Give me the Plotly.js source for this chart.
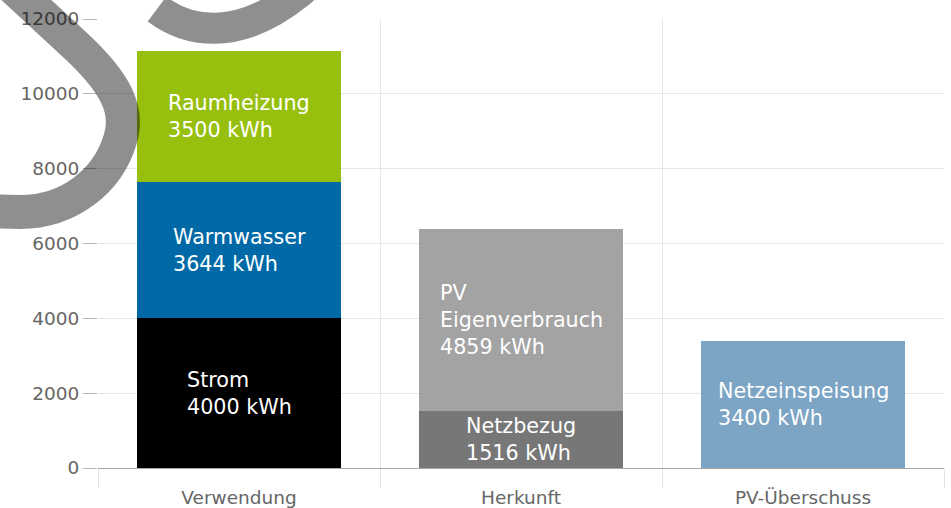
<!DOCTYPE html>
<html>
<head>
<meta charset="utf-8">
<script src="https://cdn.plot.ly/plotly-3.0.1.min.js"></script>
<style>
  html, body { margin: 0; padding: 0; background: #ffffff; }
  #chart { width: 951px; height: 508px; }
</style>
</head>
<body>
<div id="chart"></div>
<script>
// ---- data ----
const categories = ['Verwendung', 'Herkunft', 'PV-Überschuss'];
const segmentNames = ['Strom', 'Warmwasser', 'Raumheizung', 'Netzbezug', 'PV<br>Eigenverbrauch', 'Netzeinspeisung'];
const segmentCategory = [0, 0, 0, 1, 1, 2];
const segmentValues = [4000, 3644, 3500, 1516, 4859, 3400];
const segmentColors = ['#000000', '#0069a6', '#97bf0d', '#777777', '#a3a3a3', '#7ca4c4'];
const yTickValues = [0, 2000, 4000, 6000, 8000, 10000, 12000];
const unit = 'kWh';

// ---- layout constants ----
const W = 951, H = 508;
const M = { l: 98, r: 7, t: 19, b: 40 };
const FONT = '"DejaVu Sans", sans-serif';

const traces = [];
const annotations = [];
const bases = categories.map(() => 0);

segmentValues.forEach((v, i) => {
  const c = segmentCategory[i];
  traces.push({
    type: 'bar',
    x: [categories[c]],
    y: [v],
    name: segmentNames[i],
    marker: { color: segmentColors[i], line: { width: 0 } },
    hoverinfo: 'none'
  });
  annotations.push({
    x: categories[c],
    y: bases[c] + v / 2,
    xref: 'x', yref: 'y',
    text: segmentNames[i] + '<br>' + v + ' ' + unit,
    showarrow: false,
    align: 'left',
    xanchor: 'center',
    yanchor: 'middle',
    font: { family: FONT, size: 20.7, color: '#ffffff' }
  });
  bases[c] += v;
});

// ---- watermark (decorative logo swoosh), defined in pixel coords ----
const pw = W - M.l - M.r, ph = H - M.t - M.b;
function P(x, y) { return ((x - M.l) / pw).toFixed(4) + ',' + ((H - M.b - y) / ph).toFixed(4); }
const swoosh1 = 'M' + P(-5, -29) + ' L' + P(75, 45) +
  ' C' + P(115, 82) + ' ' + P(130, 110) + ' ' + P(120, 140) +
  ' C' + P(108, 180) + ' ' + P(70, 212) + ' ' + P(20, 212) +
  ' L' + P(-30, 211);
const swoosh2 = 'M' + P(157, 9) + ' C' + P(185, 30) + ' ' + P(235, 45) + ' ' + P(300, -8) + ' L' + P(330, -35);

const shapes = [
  { type: 'path', xref: 'paper', yref: 'paper', path: swoosh1, layer: 'above',
    line: { color: 'rgba(0,0,0,0.44)', width: 34 } },
  { type: 'path', xref: 'paper', yref: 'paper', path: swoosh2, layer: 'above',
    line: { color: 'rgba(0,0,0,0.44)', width: 31 } }
];

const layout = {
  width: W, height: H,
  margin: M,
  paper_bgcolor: '#ffffff',
  plot_bgcolor: '#ffffff',
  barmode: 'stack',
  bargap: 0.28,
  showlegend: false,
  font: { family: FONT, color: '#666666' },
  xaxis: {
    type: 'category',
    categoryorder: 'array',
    categoryarray: categories,
    range: [-0.5, 2.5],
    tickson: 'boundaries',
    ticks: 'outside',
    ticklen: 19,
    tickcolor: '#e3e3e3',
    ticklabelstandoff: 16,
    showgrid: true,
    gridcolor: '#e6e6e6',
    showline: false,
    zeroline: false,
    tickfont: { family: FONT, size: 18.5, color: '#666666' },
    fixedrange: true
  },
  yaxis: {
    range: [0, 12000],
    tickvals: yTickValues,
    ticktext: yTickValues.map(String),
    ticks: 'outside',
    ticklen: 14,
    tickcolor: '#b5b5b5',
    showgrid: true,
    gridcolor: '#e6e6e6',
    zeroline: true,
    zerolinecolor: '#a8a8a8',
    zerolinewidth: 1,
    showline: false,
    tickfont: { family: FONT, size: 18.5, color: '#666666' },
    fixedrange: true
  },
  annotations: annotations,
  shapes: shapes
};

Plotly.newPlot('chart', traces, layout, { staticPlot: true, displayModeBar: false });
</script>
</body>
</html>
